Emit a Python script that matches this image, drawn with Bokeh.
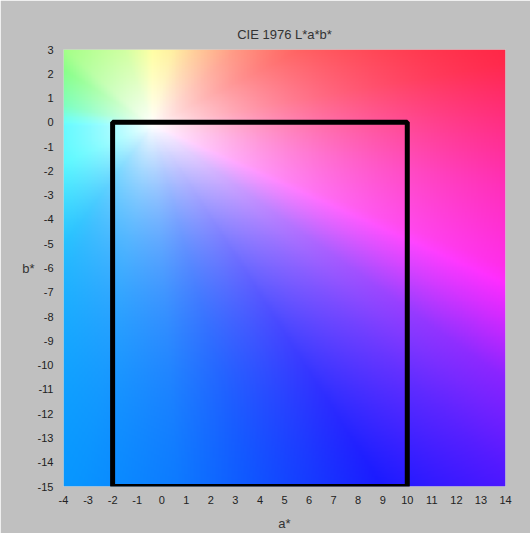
import numpy as np
from bokeh.plotting import figure
from bokeh.models import FixedTicker, Title
from bokeh.embed import file_html
from bokeh.resources import INLINE

# ---- data ----
title_text = "CIE 1976 L*a*b*"
x_label = "a*"
y_label = "b*"
a_range = [-4, 14]
b_range = [-15, 3]
a_ticks = list(range(-4, 15))
b_ticks = list(range(-15, 4))
a_tick_labels = [str(t) for t in a_ticks]
b_tick_labels = [str(t) for t in b_ticks]
rect_left = [-2]
rect_right = [10]
rect_bottom = [-15]
rect_top = [0]

# ---- colour field (background gradient of the a*b* plane) ----
white_a, white_b = -0.4, -0.1
ang_pts = [-180, -157, -120, -101, -86, -75, -65, -56, -45, -36, -29, -22, -10, 0, 10, 24, 42, 60, 75, 90, 110, 138, 167, 174, 180]
hue_pts = [182, 182, 200, 206, 213, 222, 232, 242, 255, 268, 288, 306, 320, 335, 350, 358, 370, 390, 410, 420, 450, 465, 510, 530, 542]
sat_ang = [-180, -165, -126, -100, -75, -56, -40, -20, 0, 30, 80, 140, 170, 180]
sat_scale = [4.0, 4.0, 3.2, 4.5, 5.5, 8.0, 9.0, 9.0, 8.5, 7.0, 7.0, 7.5, 5.0, 4.0]

N = 300
xs = np.linspace(a_range[0], a_range[1], N)
ys = np.linspace(b_range[0], b_range[1], N)
X, Y = np.meshgrid(xs, ys)
dx = X - white_a
dy = Y - white_b
theta = np.degrees(np.arctan2(dy, dx))
hue = np.mod(np.interp(theta, ang_pts, hue_pts), 360.0) / 60.0
r = np.hypot(dx, dy)
s = 1 - np.exp(-r / np.interp(theta, sat_ang, sat_scale))
v = np.ones_like(s)
i = np.floor(hue).astype(int) % 6
f = hue - np.floor(hue)
pp = v * (1 - s)
q = v * (1 - s * f)
t = v * (1 - s * (1 - f))
R = np.choose(i, [v, q, pp, pp, t, v])
G = np.choose(i, [t, v, v, q, pp, pp])
B = np.choose(i, [pp, pp, t, v, v, q])
img = np.empty((N, N), dtype=np.uint32)
view = img.view(dtype=np.uint8).reshape((N, N, 4))
view[:, :, 0] = (R * 255).astype(np.uint8)
view[:, :, 1] = (G * 255).astype(np.uint8)
view[:, :, 2] = (B * 255).astype(np.uint8)
view[:, :, 3] = 255

p = figure(width=530, height=533, x_range=tuple(a_range), y_range=tuple(b_range),
           output_backend="svg", toolbar_location=None,
           min_border_left=63, min_border_right=25, min_border_top=49, min_border_bottom=45)
# real title, with a thin spacer title between it and the frame
p.title.text = title_text
p.title.align = "center"
p.title.text_font = "Liberation Sans"
p.title.text_font_size = "13px"
p.title.text_font_style = "normal"
p.title.text_color = "#333333"
p.add_layout(Title(text=" ", text_font_size="1px", standoff=0), "above")

p.background_fill_color = "#c0c0c0"
p.border_fill_color = "#c0c0c0"
p.outline_line_color = None
p.grid.visible = False

p.image_rgba(image=[img], x=a_range[0], y=b_range[0],
             dw=a_range[1] - a_range[0], dh=b_range[1] - b_range[0])

p.quad(left=rect_left, right=rect_right, bottom=rect_bottom, top=rect_top,
       fill_color=None, line_color="black", line_width=5)

p.xaxis.ticker = FixedTicker(ticks=a_ticks)
p.yaxis.ticker = FixedTicker(ticks=b_ticks)
p.xaxis.major_label_overrides = dict(zip(a_ticks, a_tick_labels))
p.yaxis.major_label_overrides = dict(zip(b_ticks, b_tick_labels))
for ax in (p.xaxis, p.yaxis):
    ax.axis_line_color = None
    ax.major_tick_line_color = None
    ax.minor_tick_line_color = None
    ax.major_label_text_font = "Liberation Sans"
    ax.major_label_text_font_size = "11px"
    ax.major_label_text_color = "#222222"
    ax.axis_label_text_font = "Liberation Sans"
    ax.axis_label_text_font_size = "13px"
    ax.axis_label_text_font_style = "normal"
    ax.axis_label_text_color = "#333333"
p.xaxis.axis_label = x_label
p.yaxis.axis_label = y_label
p.yaxis.axis_label_orientation = "horizontal"
p.xaxis.major_label_standoff = 3
p.yaxis.major_label_standoff = 4
p.xaxis.axis_label_standoff = 9
p.yaxis.axis_label_standoff = 0

open("out.html", "w").write(file_html(p, INLINE))
